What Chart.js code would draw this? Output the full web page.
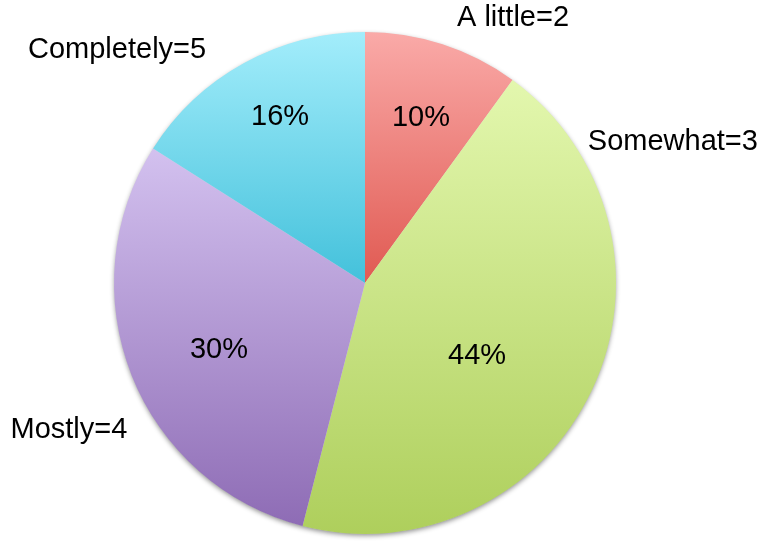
<!DOCTYPE html>
<html>
<head>
<meta charset="utf-8">
<title>Pie</title>
<script src="https://cdn.jsdelivr.net/npm/chart.js@4"></script>
<style>
  html, body { margin: 0; padding: 0; background: #fff; }
  #wrap { width: 766px; height: 542px; }
</style>
</head>
<body>
<div id="wrap"><canvas id="pie" width="766" height="542"></canvas></div>
<script>
// Data
const categories = ['A little=2', 'Somewhat=3', 'Mostly=4', 'Completely=5'];
const shares = [10, 44, 30, 16];

// top / bottom colours of each slice's vertical gradient
const topColors = ['#faaaa8', '#e3f7ae', '#d3c1ef', '#a3edfb'];
const bottomColors = ['#e05a52', '#aecf5c', '#8e6cb5', '#43c1db'];

// where the labels sit: r in radius units, da = degrees off the slice middle
const innerPlace = [{ r: 0.695, da: 0.7 }, { r: 0.533, da: 7.9 }, { r: 0.64, da: -3 }, { r: 0.743, da: 1.7 }];
const outerPlace = [{ r: 1.209, da: 11.2 }, { r: 1.349, da: -49.8 }, { r: 1.317, da: -4.8 }, { r: 1.355, da: -18 }];

const FONT = '29px "Liberation Sans", Arial, sans-serif';

function pieGeom(chart) {
    const a = chart.chartArea;
    return {
        cx: (a.left + a.right) / 2,
        cy: (a.top + a.bottom) / 2,
        r: Math.min(a.right - a.left, a.bottom - a.top) / 2
    };
}

function sliceAngles(i) {
    const total = shares.reduce((s, v) => s + v, 0);
    let before = 0;
    for (let k = 0; k < i; k++) before += shares[k];
    const start = -Math.PI / 2 + before / total * Math.PI * 2;
    const end = start + shares[i] / total * Math.PI * 2;
    return { start, end };
}

// vertical extent of one slice, so each slice gets its own gradient
function sliceSpan(chart, i) {
    const g = pieGeom(chart);
    const { start, end } = sliceAngles(i);
    const ys = [g.cy, g.cy + g.r * Math.sin(start), g.cy + g.r * Math.sin(end)];
    for (let k = -1; k <= 4; k++) {
        const t = k * Math.PI / 2;
        if (t > start && t < end) ys.push(g.cy + g.r * Math.sin(t));
    }
    return { y0: Math.min(...ys), y1: Math.max(...ys) };
}

function sliceFill(ctx) {
    const chart = ctx.chart;
    const i = ctx.dataIndex;
    if (!chart.chartArea) return bottomColors[i];
    const s = sliceSpan(chart, i);
    const grad = chart.ctx.createLinearGradient(0, s.y0, 0, s.y1);
    grad.addColorStop(0, topColors[i]);
    grad.addColorStop(1, bottomColors[i]);
    return grad;
}

// soft shadow under the whole pie
const pieShadow = {
    id: 'pieShadow',
    beforeDatasetsDraw(chart) {
        const g = pieGeom(chart);
        const c = chart.ctx;
        c.save();
        c.shadowColor = 'rgba(0,0,0,0.45)';
        c.shadowBlur = 5;
        c.shadowOffsetY = 2;
        c.beginPath();
        c.arc(g.cx, g.cy, g.r - 0.5, 0, Math.PI * 2);
        c.fillStyle = '#ddd';
        c.fill();
        c.restore();
    }
};

// percentages inside, category names outside
const pieLabels = {
    id: 'pieLabels',
    afterDatasetsDraw(chart) {
        const g = pieGeom(chart);
        const c = chart.ctx;
        const total = shares.reduce((s, v) => s + v, 0);
        c.save();
        c.font = FONT;
        c.fillStyle = '#000';
        c.textAlign = 'center';
        c.textBaseline = 'middle';
        shares.forEach((v, i) => {
            const { start, end } = sliceAngles(i);
            const mid = (start + end) / 2;
            const put = (p, text) => {
                const t = mid + p.da * Math.PI / 180;
                c.fillText(text, g.cx + p.r * g.r * Math.cos(t), g.cy + p.r * g.r * Math.sin(t));
            };
            put(innerPlace[i], Math.round(v / total * 100) + '%');
            put(outerPlace[i], categories[i]);
        });
        c.restore();
    }
};

new Chart(document.getElementById('pie'), {
    type: 'pie',
    data: {
        labels: categories,
        datasets: [{
            data: shares,
            backgroundColor: sliceFill,
            borderWidth: 0
        }]
    },
    options: {
        responsive: false,
        animation: false,
        layout: { padding: { top: 32, bottom: 8, left: 114, right: 150 } },
        plugins: {
            legend: { display: false },
            tooltip: { enabled: false }
        }
    },
    plugins: [pieShadow, pieLabels]
});
</script>
</body>
</html>
